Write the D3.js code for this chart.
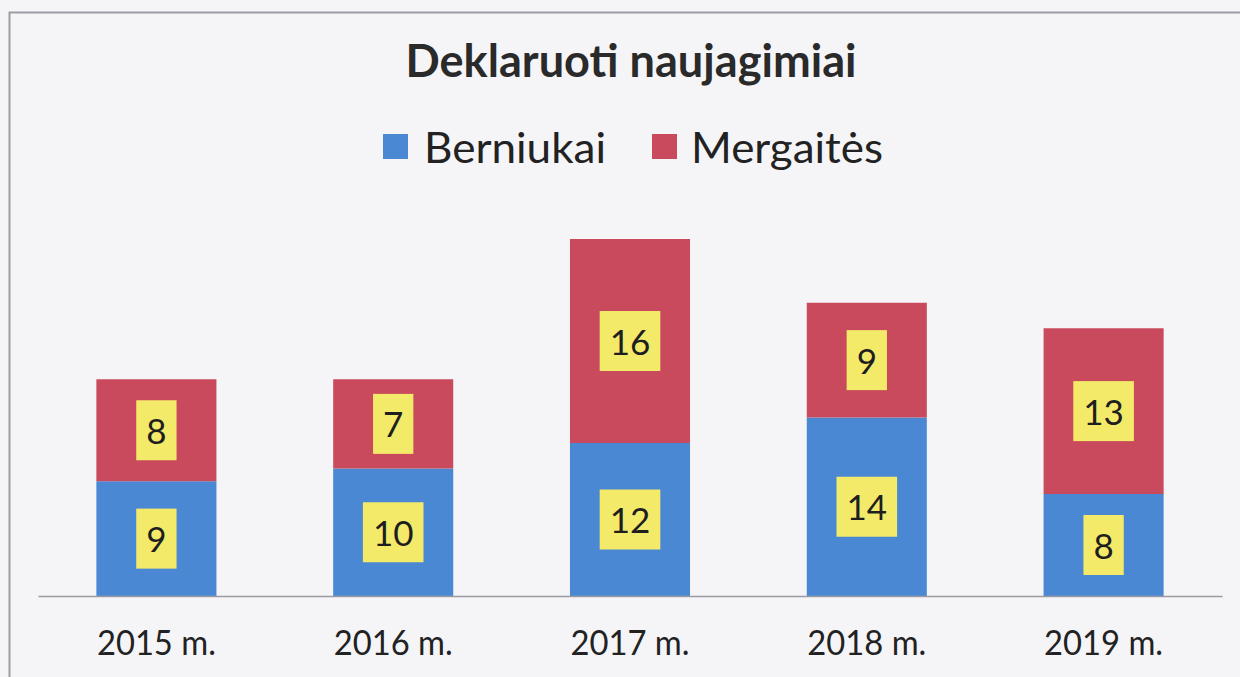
<!DOCTYPE html>
<html>
<head>
<meta charset="utf-8">
<script src="https://cdn.jsdelivr.net/npm/d3@7"></script>
<style>
  html, body { margin: 0; padding: 0; background: #f5f5f8; }
  svg { display: block; font-family: Lato, "Open Sans", sans-serif; }
</style>
</head>
<body>
<div id="chart"></div>
<script>
const years = ["2015 m.", "2016 m.", "2017 m.", "2018 m.", "2019 m."];
const berniukai = [9, 10, 12, 14, 8];
const mergaites = [8, 7, 16, 9, 13];
const seriesNames = ["Berniukai", "Mergaitės"];
const seriesColors = ["#4a88d4", "#c94a5d"];

const width = 1240, height = 677;
const baseY = 596;

const svg = d3.select("#chart").append("svg")
    .attr("width", width)
    .attr("height", height);

// scanned page frame
svg.append("path")
    .attr("d", "M9.5,677 V12.5 H1240")
    .attr("fill", "none")
    .attr("stroke", "#9c9ca4")
    .attr("stroke-width", 2);

const x = d3.scaleBand()
    .domain(years)
    .range([38, 1222])
    .paddingInner(0.493)
    .paddingOuter(0.2465);

const y = d3.scaleLinear()
    .domain([0, 30])
    .range([baseY, baseY - 30 * 12.75]);

const rows = years.map((yr, i) => ({ year: yr, Berniukai: berniukai[i], "Mergaitės": mergaites[i] }));
const stacked = d3.stack().keys(seriesNames)(rows);

const layers = svg.selectAll(".layer")
    .data(stacked)
    .join("g")
    .attr("class", "layer")
    .attr("fill", (d, i) => seriesColors[i]);

layers.selectAll("rect")
    .data(d => d)
    .join("rect")
    .attr("x", d => x(d.data.year))
    .attr("width", x.bandwidth())
    .attr("y", d => y(d[1]))
    .attr("height", d => y(d[0]) - y(d[1]));

// value labels in yellow boxes
stacked.forEach(layer => {
    layer.forEach(d => {
        const cx = x(d.data.year) + x.bandwidth() / 2;
        const cy = (y(d[0]) + y(d[1])) / 2;
        const g = svg.append("g");
        const box = g.append("rect").attr("fill", "#f4ea6a");
        const t = g.append("text")
            .attr("x", cx)
            .attr("y", cy + 13.5)
            .attr("text-anchor", "middle")
            .attr("font-size", 35)
            .attr("fill", "#1e1e1e")
            .text(d[1] - d[0]);
        const w = t.node().getComputedTextLength() + 20;
        box.attr("x", cx - w / 2).attr("y", cy - 30).attr("width", w).attr("height", 60);
    });
});

// axis baseline
const xAxis = svg.append("g")
    .attr("transform", `translate(0,${baseY})`)
    .call(d3.axisBottom(x).tickSize(0).tickPadding(0));
xAxis.select(".domain").attr("stroke", "#9a9aa2").attr("stroke-width", 1.5);
xAxis.selectAll(".tick text")
    .attr("y", 59)
    .attr("dy", 0)
    .attr("font-size", 34)
    .attr("font-family", "Lato, sans-serif")
    .attr("fill", "#222")
    .attr("textLength", 119)
    .attr("lengthAdjust", "spacingAndGlyphs");

// title
svg.append("text")
    .attr("x", 631)
    .attr("y", 77)
    .attr("text-anchor", "middle")
    .attr("font-size", 45)
    .attr("font-weight", "bold")
    .attr("fill", "#2a2a2a")
    .attr("textLength", 451)
    .attr("lengthAdjust", "spacingAndGlyphs")
    .text("Deklaruoti naujagimiai");

// legend
const legendItems = [
    { name: seriesNames[0], color: seriesColors[0], sx: 383, tx: 424, tw: 182 },
    { name: seriesNames[1], color: seriesColors[1], sx: 652, tx: 691, tw: 192 }
];
legendItems.forEach(it => {
    svg.append("rect")
        .attr("x", it.sx).attr("y", 134)
        .attr("width", 25).attr("height", 25)
        .attr("fill", it.color);
    svg.append("text")
        .attr("x", it.tx).attr("y", 163)
        .attr("font-size", 42)
        .attr("fill", "#222")
        .attr("textLength", it.tw)
        .attr("lengthAdjust", "spacingAndGlyphs")
        .text(it.name);
});
</script>
</body>
</html>
